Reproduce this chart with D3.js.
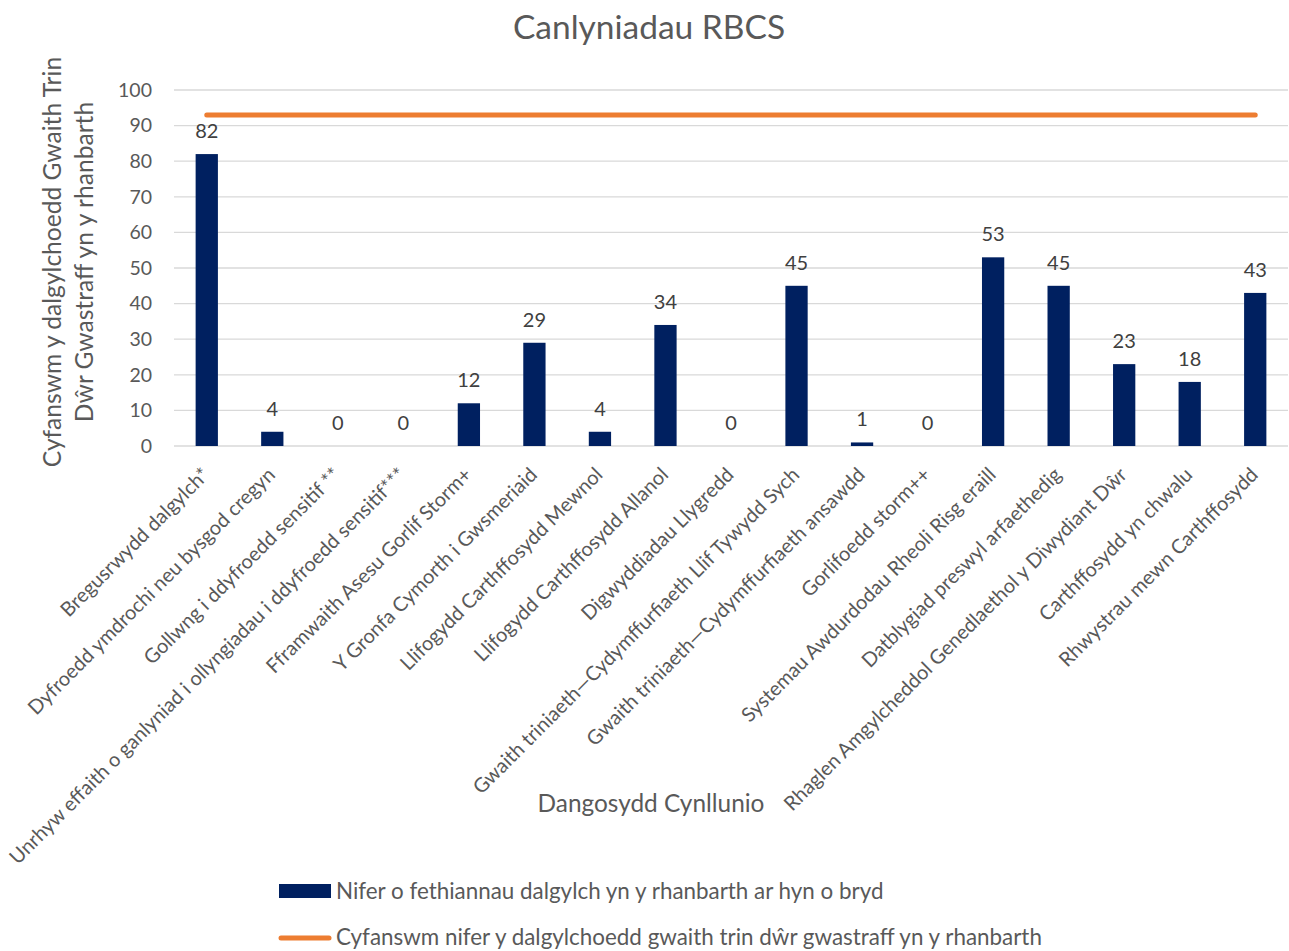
<!DOCTYPE html>
<html><head><meta charset="utf-8">
<script src="https://cdn.jsdelivr.net/npm/d3@7"></script>
<style>body{margin:0;background:#fff;} text{font-family:Lato, "Open Sans", sans-serif;}</style>
</head><body>
<svg id="c" width="1289" height="951"></svg>
<script>
const categories = [
"Bregusrwydd dalgylch*",
"Dyfroedd ymdrochi neu bysgod cregyn",
"Gollwng i ddyfroedd sensitif **",
"Unrhyw effaith o ganlyniad i ollyngiadau i ddyfroedd sensitif***",
"Fframwaith Asesu Gorlif Storm+",
"Y Gronfa Cymorth i Gwsmeriaid",
"Llifogydd Carthffosydd Mewnol",
"Llifogydd Carthffosydd Allanol",
"Digwyddiadau Llygredd",
"Gwaith triniaeth\u2014Cydymffurfiaeth Llif Tywydd Sych",
"Gwaith triniaeth\u2014Cydymffurfiaeth ansawdd",
"Gorlifoedd storm++",
"Systemau Awdurdodau Rheoli Risg eraill",
"Datblygiad preswyl arfaethedig",
"Rhaglen Amgylcheddol Genedlaethol y Diwydiant D\u0175r",
"Carthffosydd yn chwalu",
"Rhwystrau mewn Carthffosydd"
];
const failures = [82,4,0,0,12,29,4,34,0,45,1,0,53,45,23,18,43];
const totalWorks = [93,93,93,93,93,93,93,93,93,93,93,93,93,93,93,93,93];
const yTicks = [0,10,20,30,40,50,60,70,80,90,100];
const seriesNames = ["Nifer o fethiannau dalgylch yn y rhanbarth ar hyn o bryd","Cyfanswm nifer y dalgylchoedd gwaith trin d\u0175r gwastraff yn y rhanbarth"];

(function(){
const svg = d3.select("#c");
const pl=174, pr=1288, pt=90, pb=446;
const x = d3.scaleBand().domain(categories).range([pl,pr]).paddingInner(0.66).paddingOuter(0.33);
const y = d3.scaleLinear().domain([0,100]).range([pb,pt]);
const navy="#002060", orange="#ED7D31", grey="#595959";

svg.append("g").selectAll("line").data(yTicks).join("line")
  .attr("x1",pl).attr("x2",pr).attr("y1",d=>y(d)).attr("y2",d=>y(d))
  .attr("stroke","#d9d9d9").attr("stroke-width",1.3);

const yAxis = d3.axisLeft(y).tickValues(yTicks).tickSize(0).tickPadding(0);
const ga = svg.append("g").attr("transform",`translate(152,0)`).call(yAxis);
ga.select(".domain").remove();
ga.selectAll("text").attr("fill",grey).style("font-size","19.5px").style("font-family","Lato");

svg.append("g").selectAll("rect").data(failures).join("rect")
  .attr("x",(d,i)=>x(categories[i])).attr("width",x.bandwidth())
  .attr("y",d=>y(d)).attr("height",d=>pb-y(d)).attr("fill",navy);

svg.append("g").selectAll("text").data(failures).join("text")
  .attr("x",(d,i)=>x(categories[i])+x.bandwidth()/2).attr("y",d=>y(d)-16)
  .attr("text-anchor","middle").attr("fill","#404040").style("font-size","20px").text(d=>d);

const line = d3.line().x((d,i)=>x(categories[i])+x.bandwidth()/2).y(d=>y(d));
svg.append("path").datum(totalWorks).attr("d",line).attr("fill","none")
  .attr("stroke",orange).attr("stroke-width",5).attr("stroke-linecap","round");

const xAxis = d3.axisBottom(x).tickSize(0).tickPadding(0);
const gx = svg.append("g").attr("transform",`translate(0,${pb})`).call(xAxis);
gx.select(".domain").remove();
gx.selectAll("text").attr("fill",grey).style("font-size","20px").style("font-family","Lato")
  .attr("text-anchor","end").attr("dy",null).attr("y",null)
  .attr("transform","translate(4,30) rotate(-45)");

svg.append("text").attr("x",649).attr("y",39).attr("text-anchor","middle").attr("fill",grey)
  .style("font-size","33.5px").text("Canlyniadau RBCS");

const yt = svg.append("text").attr("transform","translate(0,262) rotate(-90)").attr("text-anchor","middle")
  .attr("fill",grey).style("font-size","24.6px");
yt.append("tspan").attr("x",0).attr("y",61).text("Cyfanswm y dalgylchoedd Gwaith Trin");
yt.append("tspan").attr("x",0).attr("y",93).text("D\u0175r Gwastraff yn y rhanbarth");
svg.append("text").attr("x",651).attr("y",812).attr("text-anchor","middle").attr("fill",grey)
  .style("font-size","24.4px").text("Dangosydd Cynllunio");

const lg = svg.append("g");
lg.append("rect").attr("x",279).attr("y",884).attr("width",52).attr("height",14).attr("fill",navy);
lg.append("text").attr("x",336).attr("y",899).attr("fill",grey).style("font-size","22.4px").text(seriesNames[0]);
lg.append("line").attr("x1",281).attr("x2",329).attr("y1",938).attr("y2",938).attr("stroke",orange).attr("stroke-width",5).attr("stroke-linecap","round");
lg.append("text").attr("x",336).attr("y",945).attr("fill",grey).style("font-size","22.4px").text(seriesNames[1]);
})();
</script>
</body></html>
